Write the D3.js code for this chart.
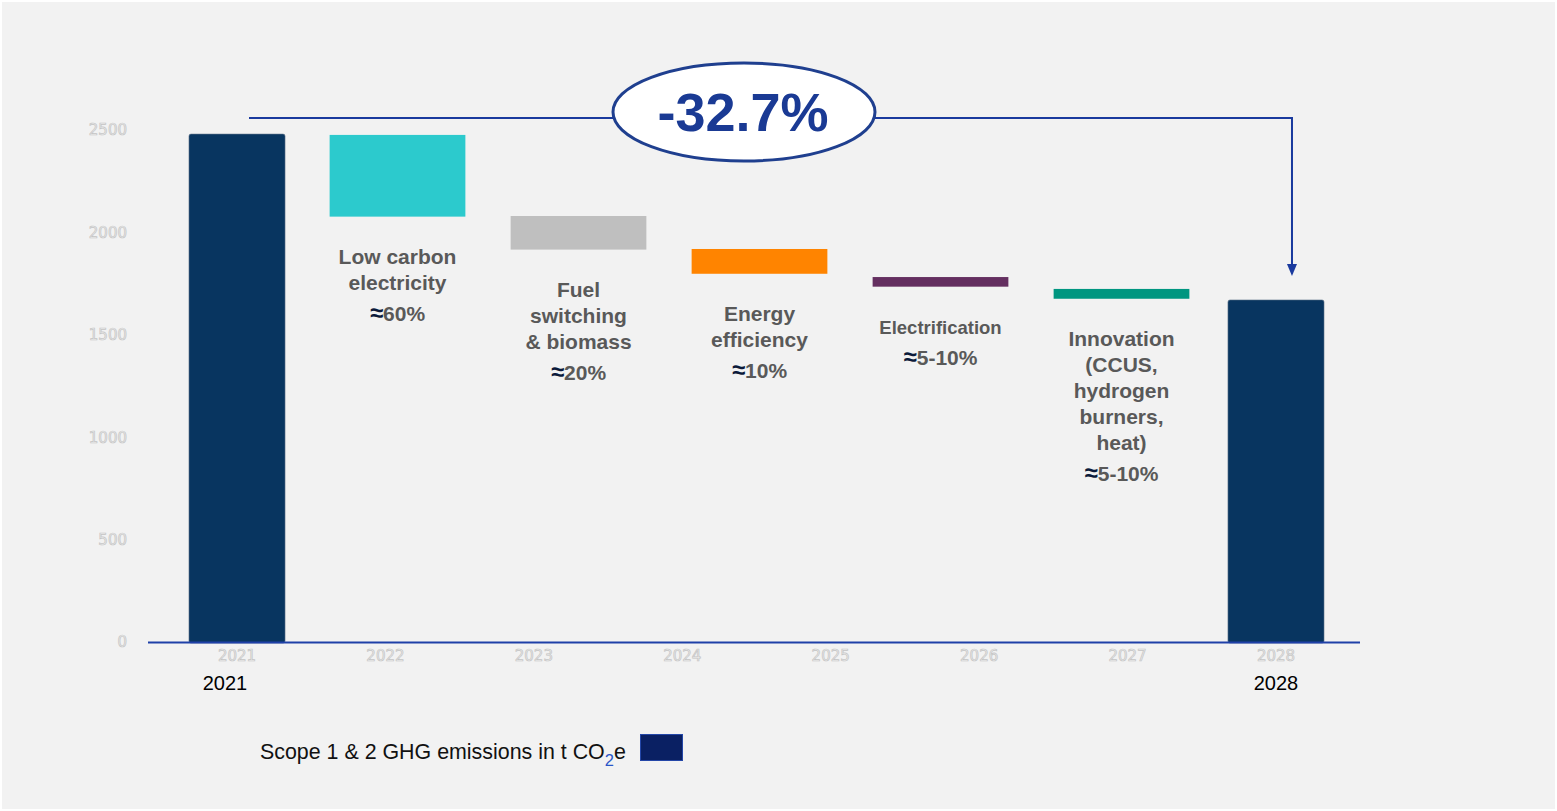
<!DOCTYPE html>
<html>
<head>
<meta charset="utf-8">
<script src="https://cdn.jsdelivr.net/npm/d3@7"></script>
<style>
  html, body { margin: 0; padding: 0; background: #ffffff; }
  svg { display: block; }
</style>
</head>
<body>
<svg id="chart" width="1557" height="811"></svg>
<script>
// ---------------- data ----------------
const years = ["2021", "2022", "2023", "2024", "2025", "2026", "2027", "2028"];
const yTicks = [0, 500, 1000, 1500, 2000, 2500];
const totalYears = ["2021", "2028"];
const totalValues = [2480, 1670];
const levers = ["Low carbon electricity", "Fuel switching & biomass", "Energy efficiency", "Electrification", "Innovation"];
const leverLines = [
  ["Low carbon", "electricity"],
  ["Fuel", "switching", "& biomass"],
  ["Energy", "efficiency"],
  ["Electrification"],
  ["Innovation", "(CCUS,", "hydrogen", "burners,", "heat)"]
];
const leverShares = ["60%", "20%", "10%", "5-10%", "5-10%"];
const leverTop = [2476, 2080, 1919, 1782, 1724];
const leverBottom = [2077, 1916, 1798, 1735, 1676];
const changeLabel = "-32.7%";
const legendLabel = ["Scope 1 & 2 GHG emissions in t CO", "2", "e"];

// ---------------- styles ----------------
const leverColors = ["#2ccacd", "#bfbfbf", "#ff8400", "#642f60", "#009680"];
const totalColor = "#083560";
const blue = "#1a3a9e";
const font = "'Liberation Sans', Arial, sans-serif";

const svg = d3.select("#chart");

// panel background
svg.append("rect").attr("x", 2).attr("y", 2).attr("width", 1553).attr("height", 807).attr("fill", "#f2f2f2");

// scales
const y = d3.scaleLinear().domain([0, 2500]).range([642, 130]);
const x = d3.scaleBand().domain(years).range([162.8, 1350.2]).paddingInner(0.353).paddingOuter(0.1765);
const xl = d3.scaleBand().domain(levers).range([307, 1212]).paddingInner(0.25).paddingOuter(0.125);

// faint axes
const yAxis = d3.axisLeft(y).tickValues(yTicks).tickFormat(d3.format("d")).tickSize(0).tickPadding(4);
const gy = svg.append("g").attr("transform", "translate(131,0)").call(yAxis);
gy.select(".domain").remove();
gy.selectAll("text")
  .attr("font-family", "'DejaVu Sans', Verdana, sans-serif")
  .attr("font-size", 15)
  .attr("fill", "#ececec")
  .attr("stroke", "#c4c4c4")
  .attr("stroke-width", 0.7);

const xAxis = d3.axisBottom(x).tickSize(0).tickPadding(8);
const gx = svg.append("g").attr("transform", "translate(0,642)").call(xAxis);
gx.select(".domain").remove();
gx.selectAll("text")
  .attr("font-family", "'DejaVu Sans', Verdana, sans-serif")
  .attr("font-size", 15)
  .attr("fill", "#ececec")
  .attr("stroke", "#c4c4c4")
  .attr("stroke-width", 0.7);

// total bars
svg.selectAll("rect.total")
  .data(totalYears.map((yr, i) => ({ yr, v: totalValues[i] })))
  .join("rect")
  .attr("class", "total")
  .attr("x", d => x(d.yr))
  .attr("y", d => y(d.v))
  .attr("width", x.bandwidth())
  .attr("height", d => y(0) - y(d.v) + 1)
  .attr("rx", 2)
  .attr("fill", totalColor)
  .attr("stroke", "#5a6f86")
  .attr("stroke-width", 0.6);

// baseline
svg.append("line")
  .attr("x1", 148).attr("x2", 1360)
  .attr("y1", y(0) + 0.5).attr("y2", y(0) + 0.5)
  .attr("stroke", "#1f40a8").attr("stroke-width", 2);

// black year labels under totals
svg.selectAll("text.yr")
  .data(totalYears)
  .join("text")
  .attr("class", "yr")
  .attr("x", (d, i) => x(d) + x.bandwidth() / 2 + (i === 0 ? -12 : 0))
  .attr("y", 690)
  .attr("text-anchor", "middle")
  .attr("font-family", font)
  .attr("font-size", 20)
  .attr("fill", "#000")
  .text(d => d);

// lever (floating) bars
svg.selectAll("rect.lever")
  .data(levers)
  .join("rect")
  .attr("class", "lever")
  .attr("x", d => xl(d))
  .attr("y", (d, i) => y(leverTop[i]))
  .attr("width", xl.bandwidth())
  .attr("height", (d, i) => y(leverBottom[i]) - y(leverTop[i]))
  .attr("fill", (d, i) => leverColors[i]);

// lever labels
levers.forEach((lv, i) => {
  const cx = xl(lv) + xl.bandwidth() / 2;
  const y0 = y(leverBottom[i]) + 47;
  const small = leverLines[i].length === 1;
  const t = svg.append("text")
    .attr("text-anchor", "middle")
    .attr("font-family", font)
    .attr("font-weight", "bold")
    .attr("fill", "#595959");
  leverLines[i].forEach((ln, j) => {
    t.append("tspan")
      .attr("x", cx)
      .attr("y", y0 + j * 26)
      .attr("font-size", small ? 18.5 : 21)
      .text(ln);
  });
  const py = y0 + (leverLines[i].length - 1) * 26 + 31;
  const p = svg.append("text")
    .attr("x", cx).attr("y", py)
    .attr("text-anchor", "middle")
    .attr("font-family", font)
    .attr("font-weight", "bold")
    .attr("font-size", 21);
  p.append("tspan").attr("fill", "#0b1a3a").attr("font-size", 24).text("\u2248");
  p.append("tspan").attr("fill", "#595959").text(leverShares[i]);
});

// bracket arrow
const topY = y(totalValues[0]) - 16;
const xStart = x(totalYears[0]) + x.bandwidth() / 2 + 12;
const xEnd = x(totalYears[1]) + x.bandwidth() / 2 + 16;
const tipY = y(totalValues[1]) - 24;
svg.append("path")
  .attr("d", `M${xStart},${topY} H${xEnd} V${tipY - 10}`)
  .attr("fill", "none")
  .attr("stroke", blue)
  .attr("stroke-width", 2);
svg.append("path")
  .attr("d", `M${xEnd - 5},${tipY - 12} L${xEnd + 5},${tipY - 12} L${xEnd},${tipY} Z`)
  .attr("fill", blue);

// ellipse callout
const ecx = 744, ecy = 112;
svg.append("ellipse")
  .attr("cx", ecx).attr("cy", ecy)
  .attr("rx", 131).attr("ry", 49)
  .attr("fill", "#ffffff")
  .attr("stroke", "#1f3f8f")
  .attr("stroke-width", 3);
svg.append("text")
  .attr("x", ecx - 1).attr("y", ecy + 19)
  .attr("text-anchor", "middle")
  .attr("font-family", font)
  .attr("font-weight", "bold")
  .attr("font-size", 54)
  .attr("fill", "#1a3a94")
  .text(changeLabel);

// legend
const lg = svg.append("text")
  .attr("x", 260).attr("y", 759)
  .attr("font-family", font)
  .attr("font-size", 21.4)
  .attr("fill", "#111");
lg.append("tspan").text(legendLabel[0]);
lg.append("tspan").attr("dy", 7).attr("font-size", 16.5).attr("fill", "#2a56c8").text(legendLabel[1]);
lg.append("tspan").attr("dy", -7).text(legendLabel[2]);
svg.append("rect")
  .attr("x", 640.5).attr("y", 734.5)
  .attr("width", 42).attr("height", 26)
  .attr("fill", "#0a2063")
  .attr("stroke", "#2447a8")
  .attr("stroke-width", 1);
</script>
</body>
</html>
